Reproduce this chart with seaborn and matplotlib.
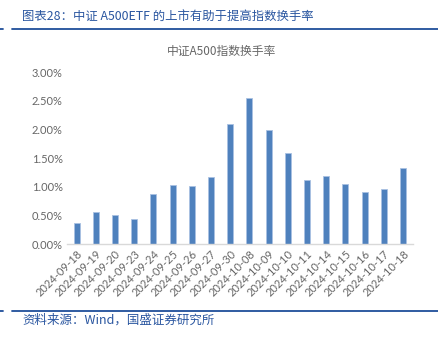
import matplotlib
matplotlib.use("Agg")
import matplotlib.pyplot as plt
import seaborn as sns
import pandas as pd
from matplotlib.ticker import PercentFormatter, MultipleLocator
from matplotlib.lines import Line2D

dates = ["2024-09-18", "2024-09-19", "2024-09-20", "2024-09-23", "2024-09-24",
         "2024-09-25", "2024-09-26", "2024-09-27", "2024-09-30", "2024-10-08",
         "2024-10-09", "2024-10-10", "2024-10-11", "2024-10-14", "2024-10-15",
         "2024-10-16", "2024-10-17", "2024-10-18"]
turnover = [0.0038, 0.0056, 0.0051, 0.0044, 0.0088,
            0.0103, 0.0102, 0.0118, 0.0210, 0.0256,
            0.0199, 0.0159, 0.0113, 0.0119, 0.0105,
            0.0092, 0.0097, 0.0133]

header = "图表28：中证 A500ETF 的上市有助于提高指数换手率"
chart_title = "中证A500指数换手率"
source = "资料来源：Wind，国盛证券研究所"

df = pd.DataFrame({"date": dates, "turnover": turnover})

sns.set_theme(style="white")
plt.rcParams["font.family"] = ["Noto Sans CJK SC", "DejaVu Sans"]

W, H = 438, 337
fig = plt.figure(figsize=(W / 100, H / 100), dpi=100)
ax = fig.add_axes([67 / W, 1 - 244.3 / H, (412.6 - 67) / W, (244.3 - 72.3) / H])

sns.barplot(data=df, x="date", y="turnover", ax=ax, color="#4F81BD",
            saturation=1, width=0.32, edgecolor="#A9C1E2", linewidth=0.6)

ax.set_ylim(0, 0.03)
ax.set_xlim(-0.5, len(dates) - 0.5)
ax.yaxis.set_major_locator(MultipleLocator(0.005))
ax.yaxis.set_major_formatter(PercentFormatter(xmax=1, decimals=2))
ax.set_xlabel("")
ax.set_ylabel("")

for s in ["top", "right", "left"]:
    ax.spines[s].set_visible(False)
ax.spines["bottom"].set_color("#D9D9D9")
ax.spines["bottom"].set_linewidth(1.0)

tick_color = "#666666"
ax.tick_params(axis="both", length=0, colors=tick_color, labelsize=8, pad=3)
for lab in ax.get_yticklabels():
    lab.set_family(["Lato", "DejaVu Sans"])
for lab in ax.get_xticklabels():
    lab.set_family(["Lato", "DejaVu Sans"])
    lab.set_rotation(45)
    lab.set_ha("right")
    lab.set_rotation_mode("anchor")

blue = "#2A56A0"
fig.text(222 / W, 1 - 51.7 / H, chart_title, ha="center", va="center",
         fontsize=8.5, color="#666666")
fig.text(22 / W, 1 - 17.5 / H, header, ha="left", va="center",
         fontsize=8.9, color=blue, fontweight="light")
fig.text(22 / W, 1 - 320 / H, source, ha="left", va="center",
         fontsize=9, color=blue, fontweight="light")

for y in (29.3, 310.7):
    fig.add_artist(Line2D([12 / W, 1.0], [1 - y / H, 1 - y / H],
                          color="#1F4E9A", linewidth=1.3, transform=fig.transFigure))
    fig.add_artist(Line2D([0, 3 / W], [1 - y / H, 1 - y / H],
                          color="#1F4E9A", linewidth=1.3, transform=fig.transFigure))

fig.savefig("out.png", dpi=100)
